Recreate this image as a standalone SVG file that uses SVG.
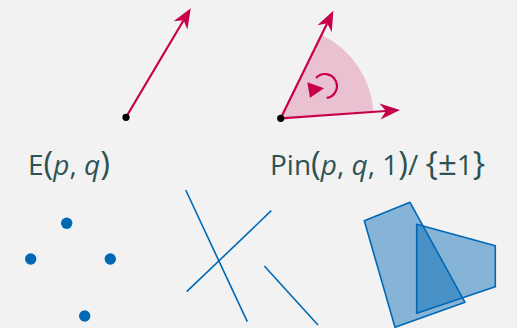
<svg xmlns="http://www.w3.org/2000/svg" width="517" height="328" viewBox="0 0 517 328">
<style>
.vec{stroke:#c8004b;stroke-width:2.2;fill:none}
.lbl{font-family:"Open Sans","Noto Sans",sans-serif;font-size:28px;fill:#2f5252}
.it{font-style:italic}
.big{font-size:33px}
.pt{fill:#0068b5}
.seg{stroke:#0068b5;stroke-width:1.6;fill:none}
.poly{fill:#0068b5;fill-opacity:0.45;stroke:#0068b5;stroke-width:1.6;stroke-linejoin:round}
</style>
<defs>
<marker id="ah" markerUnits="userSpaceOnUse" markerWidth="30" markerHeight="30" refX="0" refY="0" viewBox="-10 -10 30 20" orient="auto" overflow="visible">
<path d="M14,0 L-6,-8 L0,0 L-6,8 Z" fill="#c8004b"/>
</marker>
</defs>
<rect width="517" height="328" fill="#f2f2f2"/>
<g id="sector">
<path d="M280.7,118.3 L321.5,34.8 A93,93 0 0 1 373.5,111.8 Z" fill="#c8004b" fill-opacity="0.2"/>
<path d="M326.7,97.9 A12,12 0 1 0 316.1,77.9" class="vec" stroke-width="2.4"/>
<path d="M307.3,82.3 L324,88.3 L310,97.7 Z" fill="#c8004b"/>
</g>
<g id="connectors">
<line x1="126" y1="117.3" x2="183.6" y2="20.3" class="vec" marker-end="url(#ah)"/>
<line x1="280.7" y1="118.3" x2="327.2" y2="23.3" class="vec" marker-end="url(#ah)"/>
<line x1="280.7" y1="118.3" x2="386" y2="111" class="vec" marker-end="url(#ah)"/>
</g>
<g id="origin1"><circle cx="126" cy="117.3" r="3.6" fill="#000"/></g>
<g id="origin2"><circle cx="280.7" cy="118.3" r="3.6" fill="#000"/></g>
<g id="label1"><text class="lbl" x="28" y="175">E<tspan class="big">(</tspan><tspan class="it">p</tspan>, <tspan class="it">q</tspan><tspan class="big">)</tspan></text></g>
<g id="label2"><text class="lbl" x="270" y="175">Pin<tspan class="big">(</tspan><tspan class="it">p</tspan>, <tspan class="it">q</tspan>, 1<tspan class="big">)</tspan>/ <tspan class="big">{</tspan><tspan class="big" font-size="31">±</tspan>1<tspan class="big">}</tspan></text></g>
<g id="points">
<circle class="pt" cx="66.7" cy="223.3" r="5.7"/>
<circle class="pt" cx="30.7" cy="259" r="5.7"/>
<circle class="pt" cx="110.3" cy="259" r="5.7"/>
<circle class="pt" cx="84.7" cy="316" r="5.7"/>
</g>
<g id="segments">
<line class="seg" x1="185.7" y1="190" x2="247.3" y2="321.7"/>
<line class="seg" x1="186.7" y1="291.7" x2="271.3" y2="210.7"/>
<line class="seg" x1="264.3" y1="266" x2="318" y2="325"/>
</g>
<g id="polygons">
<polygon class="poly" points="364.3,220.7 410,202.3 465,302.3 395,327.3"/>
<polygon class="poly" points="416.7,224.3 495.3,245.7 495.3,286.7 416.7,313.3"/>
</g>
</svg>
